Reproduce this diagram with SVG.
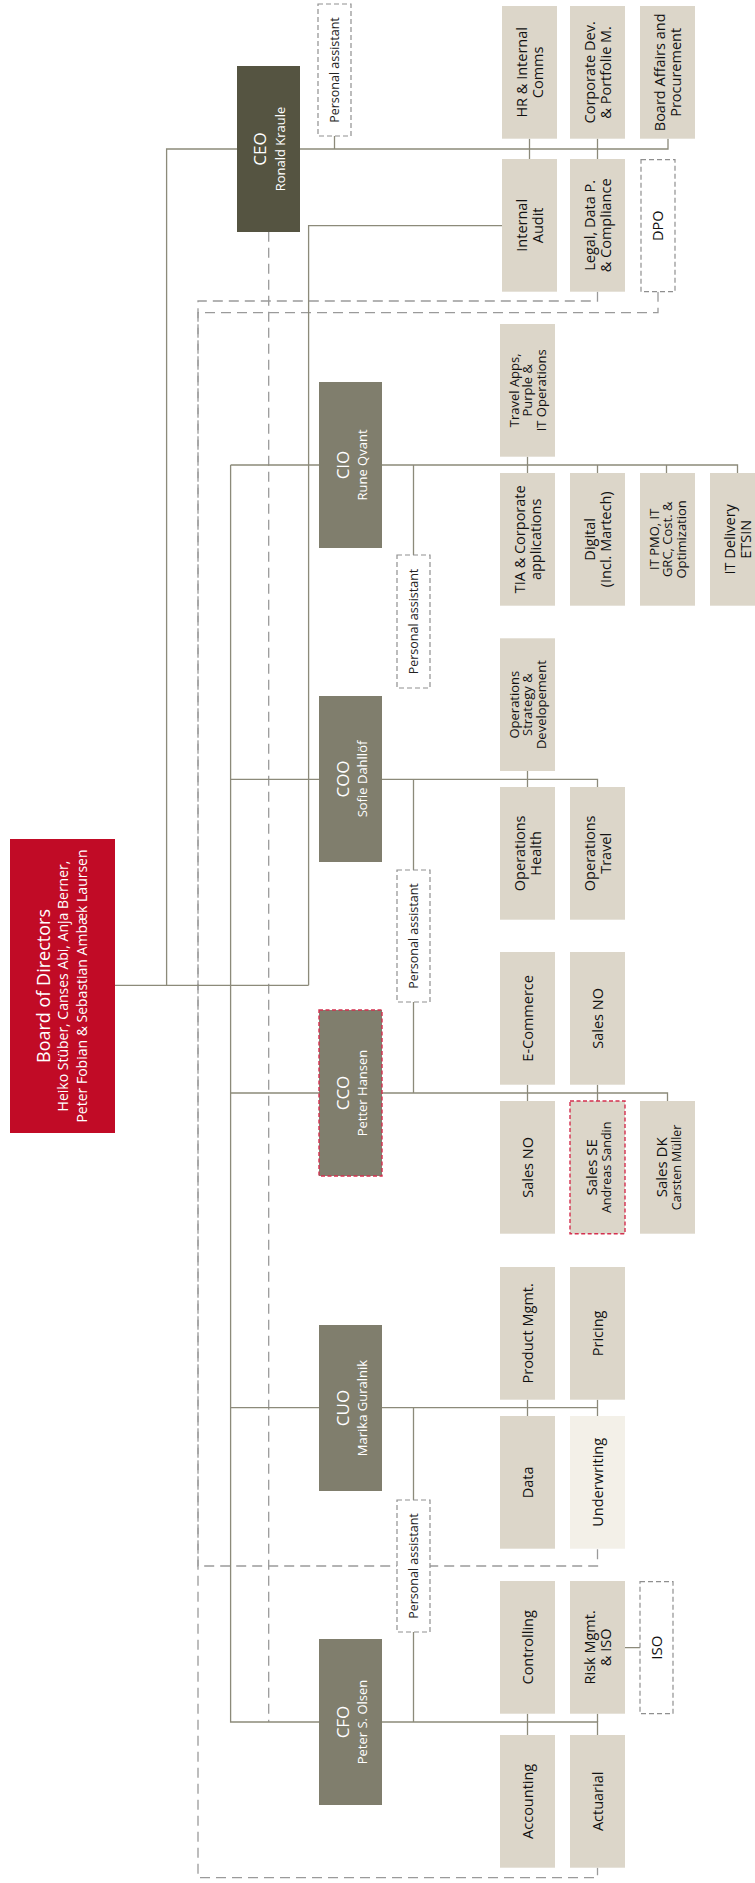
<svg xmlns="http://www.w3.org/2000/svg" width="755" height="1883" viewBox="0 0 755 1883">
<style>
.lv{fill:#dcd6c9}
.lt{fill:#f3f0e8}
.cx{fill:#807e6d}
.ceo{fill:#555441}
.pa{fill:#fff;stroke:#8f8f8f;stroke-width:1.2;stroke-dasharray:5 3}
.red{stroke:#d4304f;stroke-width:1.4;stroke-dasharray:4 2.5}
.con{fill:none;stroke:#8c8a7a;stroke-width:1.3}
.dash{fill:none;stroke:#9a9a9a;stroke-width:1.3;stroke-dasharray:10 6}
text{font-family:"Open Sans","Noto Sans","Liberation Sans",sans-serif;text-anchor:middle}
.t{font-size:14.5px;fill:#111;font-weight:500}
.s{font-size:13px;fill:#111;font-weight:500}
.p{font-size:12.5px;fill:#222}
.sub{font-size:12.5px;fill:#111;font-weight:500}
.big{font-size:15px;fill:#111;font-weight:500}
.w1{font-size:17px;fill:#fff}
.w2{font-size:13px;fill:#fff}
.b1{font-size:18px;fill:#fff}
.b2{font-size:14px;fill:#fff}
</style>
<rect width="755" height="1883" fill="#fff"/>
<g id="connectors">
<path class="dash" d="M597.5 291.7V301H198V1566H597.5V1548.7"/>
<path class="dash" d="M658 291.7V312.7H198V1877.7H597.5V1867.7"/>
<path class="dash" d="M268.7 231.7V1722"/>
<path class="con" d="M166.6 985.3V149H668V138.7"/>
<path class="con" d="M334.5 136V149"/>
<path class="con" d="M529.5 138.7V159"/>
<path class="con" d="M597.5 138.7V159"/>
<path class="con" d="M308.6 985.3V225.7H502"/>
<path class="con" d="M104 985.3H308.6"/>
<path class="con" d="M230.6 465V1722H597.5V1735"/>
<path class="con" d="M230.6 465H737.5V473M597.5 465V473M666.5 465V473M527.5 456.7V473M413.5 465V555"/>
<path class="con" d="M230.6 779.3H597.5V787M527.5 770.7V787M413.5 779.3V870"/>
<path class="con" d="M230.6 1093H667.5V1101M527.5 1084.7V1101M597.5 1084.7V1101M413.5 1002V1093"/>
<path class="con" d="M230.6 1407.7H597.5V1416M527.5 1399.7V1416M597.5 1399.7V1407.7M413.5 1407.7V1500"/>
<path class="con" d="M527.5 1713.7V1735M597.5 1713.7V1722M413.5 1632V1722M625 1647.7H640"/>
</g>
<g id="board">
<rect x="10" y="839" width="105" height="294" fill="#c10b26"/>
<text transform="rotate(-90)"><tspan class="b1" x="-986" y="49.5">Board of Directors</tspan><tspan class="b2" x="-986" y="68">Heiko Stüber, Canses Abi, Anja Berner,</tspan><tspan class="b2" x="-986" y="87">Peter Fobian &amp; Sebastian Ambæk Laursen</tspan></text>
</g>
<g id="ceo">
<rect class="ceo" x="237" y="66" width="63" height="166"/>
<text transform="rotate(-90)"><tspan class="w1" x="-149" y="266">CEO</tspan><tspan class="w2" x="-149" y="285">Ronald Kraule</tspan></text>
</g>
<g id="pa-ceo">
<rect class="pa" x="318" y="4" width="33" height="132"/>
<text class="p" transform="rotate(-90)" x="-70" y="339">Personal assistant</text>
</g>
<g id="hr">
<rect class="lv" x="502" y="6" width="55" height="132.7"/>
<text class="t" transform="rotate(-90)"><tspan x="-72.35" y="526.5">HR &amp; Internal</tspan><tspan x="-72.35" y="542.5">Comms</tspan></text>
</g>
<g id="corpdev">
<rect class="lv" x="570" y="6" width="55" height="132.7"/>
<text class="t" transform="rotate(-90)"><tspan x="-72.35" y="594.5">Corporate Dev.</tspan><tspan x="-72.35" y="610.5">&amp; Portfolie M.</tspan></text>
</g>
<g id="boardaffairs">
<rect class="lv" x="640" y="6" width="55" height="132.7"/>
<text class="t" transform="rotate(-90)"><tspan x="-72.35" y="664.5">Board Affairs and</tspan><tspan x="-72.35" y="680.5">Procurement</tspan></text>
</g>
<g id="audit">
<rect class="lv" x="502" y="159" width="55" height="132.7"/>
<text class="t" transform="rotate(-90)"><tspan x="-225.35" y="526.5">Internal</tspan><tspan x="-225.35" y="542.5">Audit</tspan></text>
</g>
<g id="legal">
<rect class="lv" x="570" y="159" width="55" height="132.7"/>
<text class="t" transform="rotate(-90)"><tspan x="-225.35" y="594.5">Legal, Data P.</tspan><tspan x="-225.35" y="610.5">&amp; Compliance</tspan></text>
</g>
<g id="dpo">
<rect class="pa" x="641" y="159.7" width="34" height="132"/>
<text class="t" transform="rotate(-90)" x="-225.7" y="663">DPO</text>
</g>
<g id="cio">
<rect class="cx" x="319" y="382" width="63" height="166"/>
<text transform="rotate(-90)"><tspan class="w1" x="-465" y="348.5">CIO</tspan><tspan class="w2" x="-465" y="367">Rune Qvant</tspan></text>
</g>
<g id="pa-cio">
<rect class="pa" x="397" y="555" width="33" height="133"/>
<text class="p" transform="rotate(-90)" x="-621.5" y="418">Personal assistant</text>
</g>
<g id="travelapps">
<rect class="lv" x="500" y="324" width="55" height="132.7"/>
<text class="s" transform="rotate(-90)"><tspan x="-390.35" y="518.5">Travel Apps,</tspan><tspan x="-390.35" y="532">Purple &amp;</tspan><tspan x="-390.35" y="545.5">IT Operations</tspan></text>
</g>
<g id="tia">
<rect class="lv" x="500" y="473" width="55" height="132.7"/>
<text class="t" transform="rotate(-90)"><tspan x="-539.35" y="524.5">TIA &amp; Corporate</tspan><tspan x="-539.35" y="540.5">applications</tspan></text>
</g>
<g id="digital">
<rect class="lv" x="570" y="473" width="55" height="132.7"/>
<text class="t" transform="rotate(-90)"><tspan x="-539.35" y="594.5">Digital</tspan><tspan x="-539.35" y="610.5">(Incl. Martech)</tspan></text>
</g>
<g id="itpmo">
<rect class="lv" x="640" y="473" width="55" height="132.7"/>
<text class="s" transform="rotate(-90)"><tspan x="-539.35" y="658.5">IT PMO, IT</tspan><tspan x="-539.35" y="672">GRC, Cost. &amp;</tspan><tspan x="-539.35" y="685.5">Optimization</tspan></text>
</g>
<g id="itdelivery">
<rect class="lv" x="710" y="473" width="55" height="132.7"/>
<text class="t" transform="rotate(-90)"><tspan x="-539.35" y="734.5">IT Delivery</tspan><tspan x="-539.35" y="750.5">ETSIN</tspan></text>
</g>
<g id="coo">
<rect class="cx" x="319" y="696" width="63" height="166"/>
<text transform="rotate(-90)"><tspan class="w1" x="-779" y="348.5">COO</tspan><tspan class="w2" x="-779" y="367">Sofie Dahllöf</tspan></text>
</g>
<g id="pa-coo">
<rect class="pa" x="397" y="870" width="33" height="132"/>
<text class="p" transform="rotate(-90)" x="-936" y="418">Personal assistant</text>
</g>
<g id="opsstrategy">
<rect class="lv" x="500" y="638.3" width="55" height="132.7"/>
<text class="s" transform="rotate(-90)"><tspan x="-704.65" y="518.5">Operations</tspan><tspan x="-704.65" y="532">Strategy &amp;</tspan><tspan x="-704.65" y="545.5">Developement</tspan></text>
</g>
<g id="opshealth">
<rect class="lv" x="500" y="787" width="55" height="132.7"/>
<text class="t" transform="rotate(-90)"><tspan x="-853.35" y="524.5">Operations</tspan><tspan x="-853.35" y="540.5">Health</tspan></text>
</g>
<g id="opstravel">
<rect class="lv" x="570" y="787" width="55" height="132.7"/>
<text class="t" transform="rotate(-90)"><tspan x="-853.35" y="594.5">Operations</tspan><tspan x="-853.35" y="610.5">Travel</tspan></text>
</g>
<g id="cco">
<rect class="cx red" x="319" y="1010" width="63" height="166"/>
<text transform="rotate(-90)"><tspan class="w1" x="-1093" y="348.5">CCO</tspan><tspan class="w2" x="-1093" y="367">Petter Hansen</tspan></text>
</g>
<g id="ecommerce">
<rect class="lv" x="500" y="952" width="55" height="132.7"/>
<text class="t" transform="rotate(-90)" x="-1018.35" y="532.5">E-Commerce</text>
</g>
<g id="salesno-top">
<rect class="lv" x="570" y="952" width="55" height="132.7"/>
<text class="t" transform="rotate(-90)" x="-1018.35" y="602.5">Sales NO</text>
</g>
<g id="salesno">
<rect class="lv" x="500" y="1101" width="55" height="132.7"/>
<text class="t" transform="rotate(-90)" x="-1167.35" y="532.5">Sales NO</text>
</g>
<g id="salesse">
<rect class="lv red" x="570" y="1101" width="55" height="132.7"/>
<text transform="rotate(-90)"><tspan class="big" x="-1167.35" y="596.5">Sales SE</tspan><tspan class="sub" x="-1167.35" y="611">Andreas Sandin</tspan></text>
</g>
<g id="salesdk">
<rect class="lv" x="640" y="1101" width="55" height="132.7"/>
<text transform="rotate(-90)"><tspan class="big" x="-1167.35" y="666.5">Sales DK</tspan><tspan class="sub" x="-1167.35" y="681">Carsten Müller</tspan></text>
</g>
<g id="cuo">
<rect class="cx" x="319" y="1325" width="63" height="166"/>
<text transform="rotate(-90)"><tspan class="w1" x="-1408" y="348.5">CUO</tspan><tspan class="w2" x="-1408" y="367">Marika Guralnik</tspan></text>
</g>
<g id="pa-cuo">
<rect class="pa" x="397" y="1500" width="33" height="132"/>
<text class="p" transform="rotate(-90)" x="-1566" y="418">Personal assistant</text>
</g>
<g id="product">
<rect class="lv" x="500" y="1267" width="55" height="132.7"/>
<text class="t" transform="rotate(-90)" x="-1333.35" y="532.5">Product Mgmt.</text>
</g>
<g id="pricing">
<rect class="lv" x="570" y="1267" width="55" height="132.7"/>
<text class="t" transform="rotate(-90)" x="-1333.35" y="602.5">Pricing</text>
</g>
<g id="data">
<rect class="lv" x="500" y="1416" width="55" height="132.7"/>
<text class="t" transform="rotate(-90)" x="-1482.35" y="532.5">Data</text>
</g>
<g id="underwriting">
<rect class="lt" x="570" y="1416" width="55" height="132.7"/>
<text class="t" transform="rotate(-90)" x="-1482.35" y="602.5">Underwriting</text>
</g>
<g id="cfo">
<rect class="cx" x="319" y="1639" width="63" height="166"/>
<text transform="rotate(-90)"><tspan class="w1" x="-1722" y="348.5">CFO</tspan><tspan class="w2" x="-1722" y="367">Peter S. Olsen</tspan></text>
</g>
<g id="controlling">
<rect class="lv" x="500" y="1581" width="55" height="132.7"/>
<text class="t" transform="rotate(-90)" x="-1647.35" y="532.5">Controlling</text>
</g>
<g id="risk">
<rect class="lv" x="570" y="1581" width="55" height="132.7"/>
<text class="t" transform="rotate(-90)"><tspan x="-1647.35" y="594.5">Risk Mgmt.</tspan><tspan x="-1647.35" y="610.5">&amp; ISO</tspan></text>
</g>
<g id="iso">
<rect class="pa" x="640" y="1581.7" width="33" height="132"/>
<text class="big" transform="rotate(-90)" x="-1647.7" y="662">ISO</text>
</g>
<g id="accounting">
<rect class="lv" x="500" y="1735" width="55" height="132.7"/>
<text class="t" transform="rotate(-90)" x="-1801.35" y="532.5">Accounting</text>
</g>
<g id="actuarial">
<rect class="lv" x="570" y="1735" width="55" height="132.7"/>
<text class="t" transform="rotate(-90)" x="-1801.35" y="602.5">Actuarial</text>
</g>
</svg>
